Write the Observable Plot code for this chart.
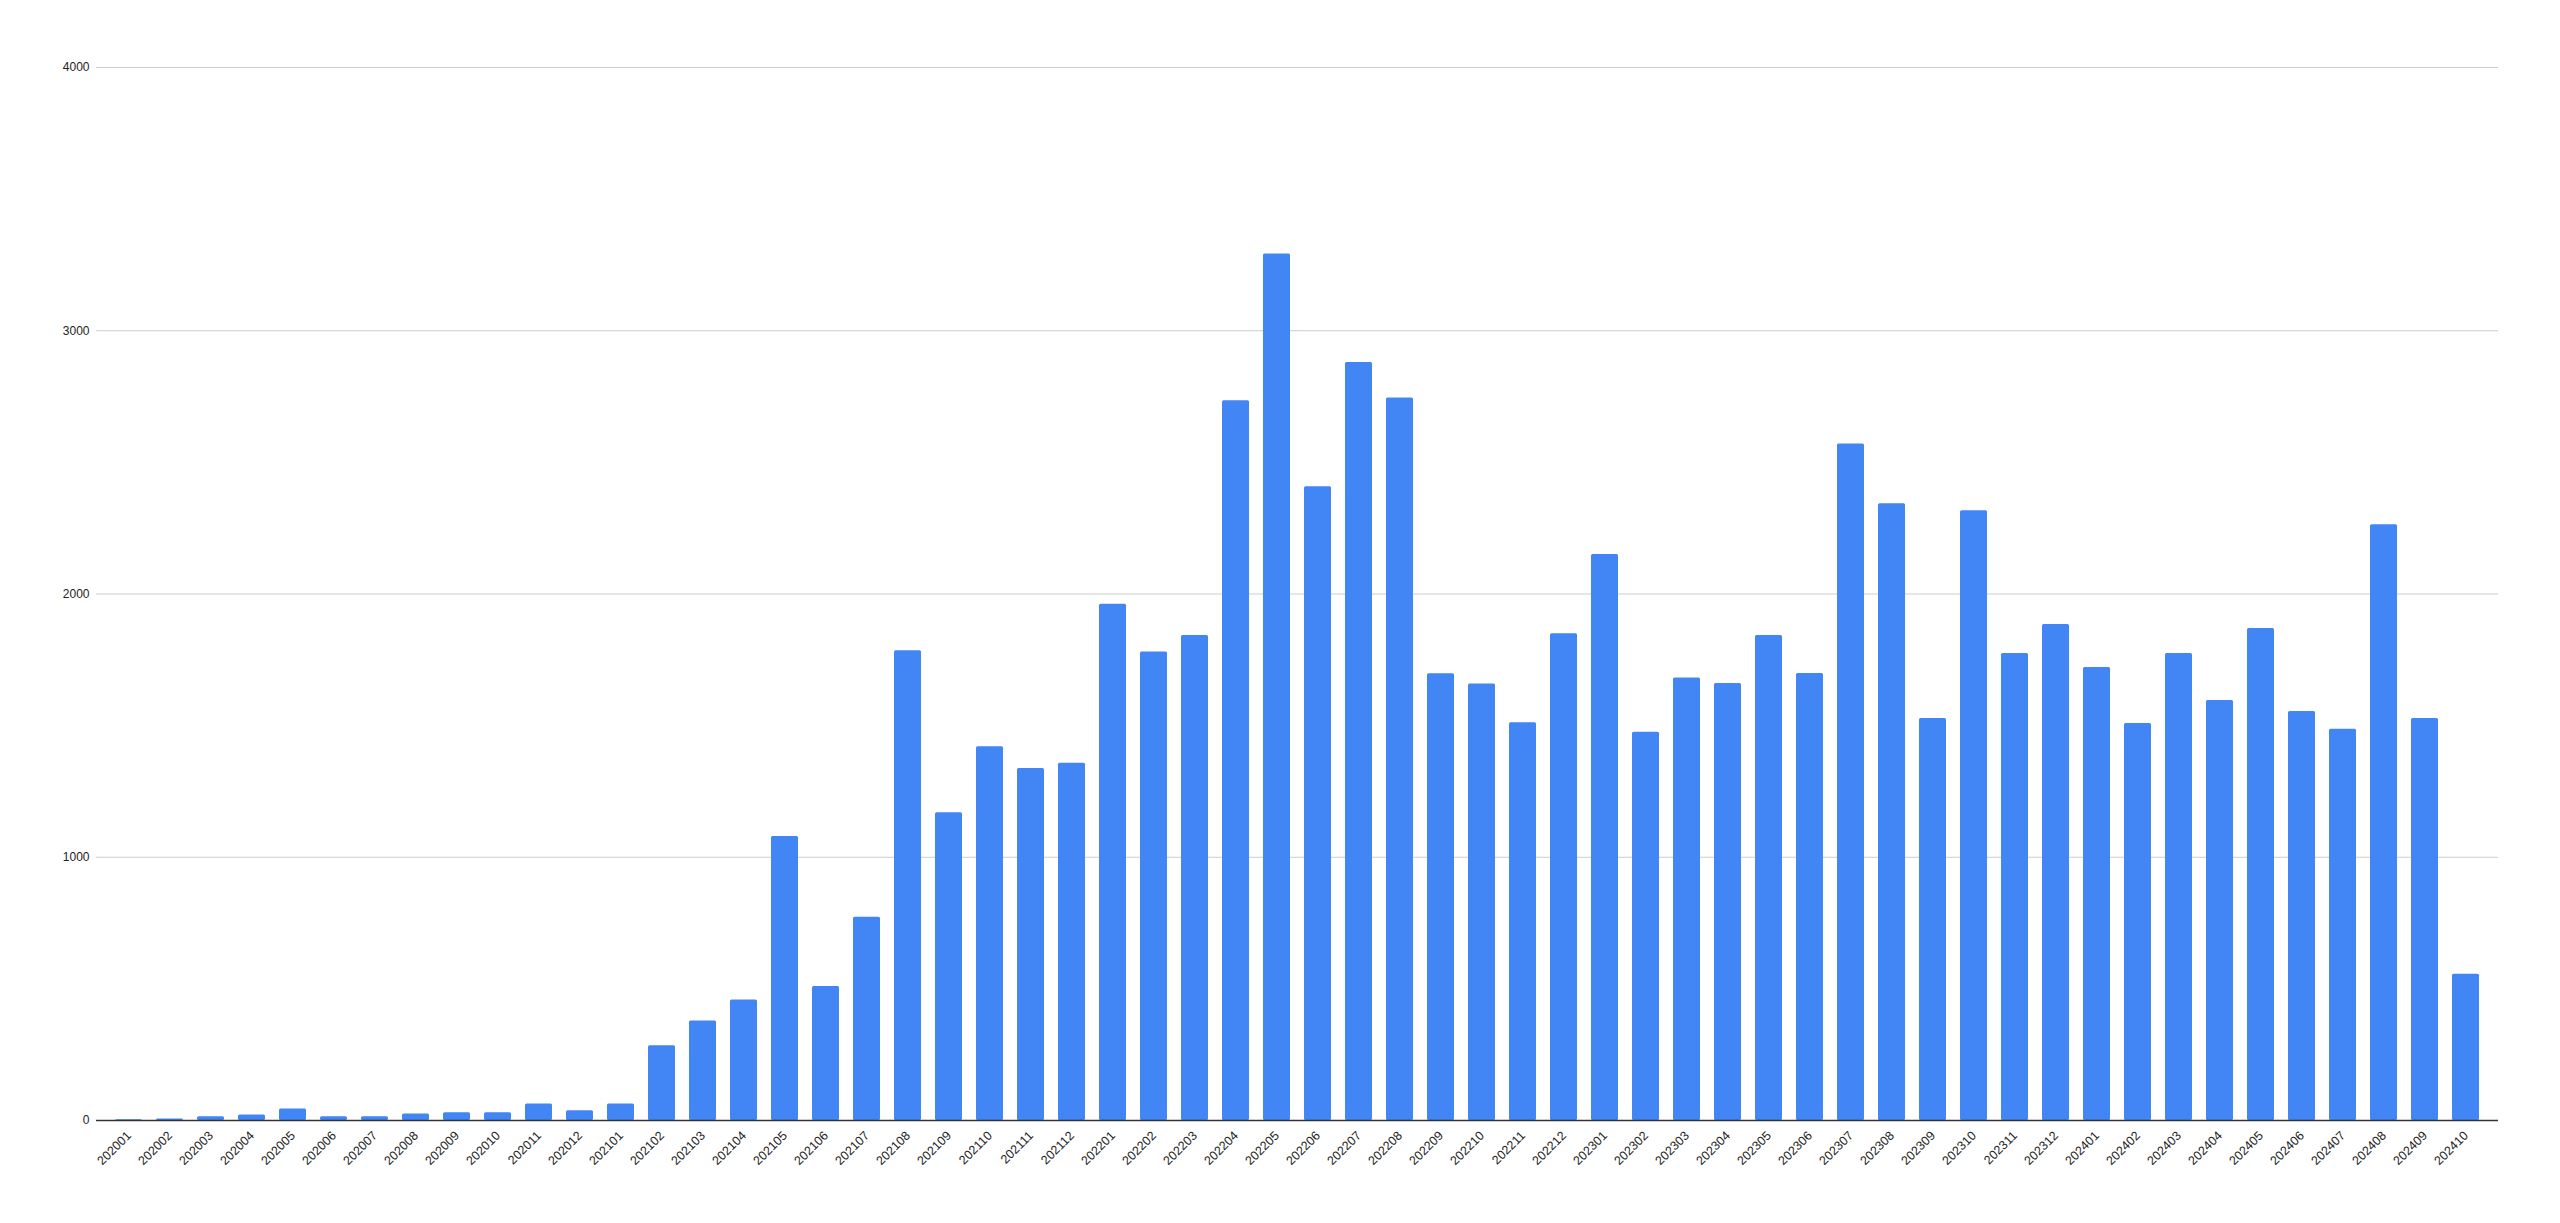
<!DOCTYPE html>
<html>
<head>
<meta charset="utf-8">
<script src="https://cdn.jsdelivr.net/npm/d3@7"></script>
<script src="https://cdn.jsdelivr.net/npm/@observablehq/plot@0.6"></script>
<style>
  html, body { margin: 0; padding: 0; background: #ffffff; }
  #chart { width: 2560px; height: 1223px; }
</style>
</head>
<body>
<div id="chart"></div>
<script>
const months = [
  "202001","202002","202003","202004","202005","202006","202007","202008","202009","202010","202011","202012",
  "202101","202102","202103","202104","202105","202106","202107","202108","202109","202110","202111","202112",
  "202201","202202","202203","202204","202205","202206","202207","202208","202209","202210","202211","202212",
  "202301","202302","202303","202304","202305","202306","202307","202308","202309","202310","202311","202312",
  "202401","202402","202403","202404","202405","202406","202407","202408","202409","202410"
];
const counts = [
  3, 6, 14, 21, 44, 14, 14, 25, 29, 29, 63, 37,
  63, 284, 378, 458, 1079, 509, 772, 1784, 1169, 1420, 1337, 1357,
  1961, 1780, 1842, 2734, 3292, 2407, 2879, 2745, 1697, 1658, 1511, 1849,
  2150, 1475, 1681, 1660, 1842, 1698, 2570, 2343, 1527, 2316, 1774, 1884,
  1721, 1508, 1774, 1595, 1869, 1554, 1486, 2263, 1527, 556
];
const yTicks = [0, 1000, 2000, 3000, 4000];

const data = months.map((m, i) => ({month: m, count: counts[i]}));

const chart = Plot.plot({
  width: 2560,
  height: 1223,
  marginLeft: 96,
  marginRight: 62,
  marginTop: 67,
  marginBottom: 103,
  style: {
    fontFamily: "'Liberation Sans', Arial, sans-serif",
    fontSize: "12px",
    color: "#222",
    background: "#ffffff"
  },
  x: {domain: months, padding: 0.34, label: null},
  y: {domain: [0, 4000], label: null},
  marks: [
    Plot.gridY(yTicks, {stroke: "#cccccc", strokeOpacity: 1}),
    Plot.barY(data, {x: "month", y: "count", fill: "#4285f4", rx: 1.5}),
    Plot.ruleY([0], {stroke: "#333333", strokeWidth: 1.3}),
    Plot.axisY(yTicks, {tickSize: 0, tickPadding: 7, label: null, fontSize: 12, tickFormat: d => String(d)}),
    Plot.axisX({tickSize: 0, tickRotate: -45, tickPadding: 13, label: null, fontSize: 12.5})
  ]
});
document.getElementById("chart").appendChild(chart);
</script>
</body>
</html>
